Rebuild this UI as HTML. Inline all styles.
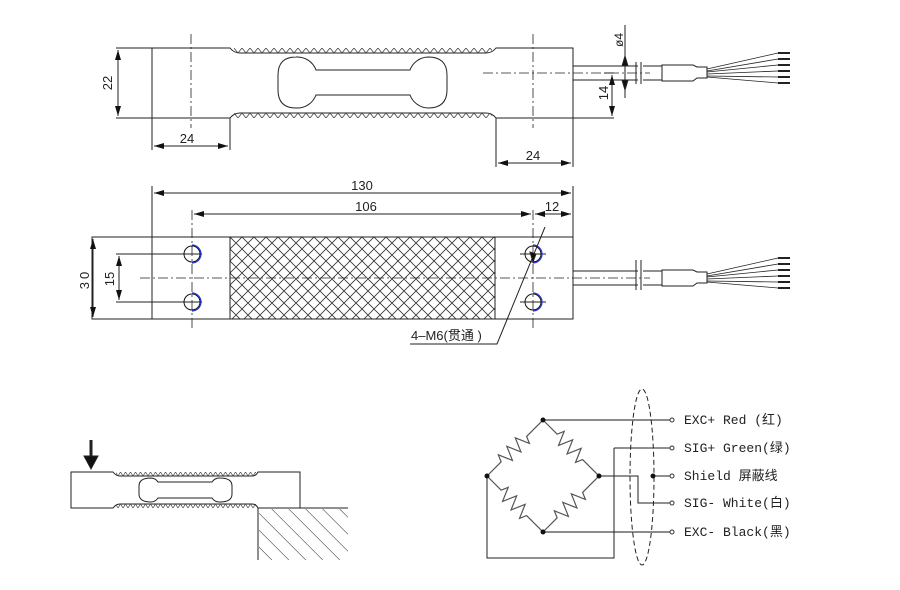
<!DOCTYPE html>
<html><head><meta charset="utf-8"><style>
html,body{margin:0;padding:0;background:#fff;}
svg{display:block;}
text{font-family:"Liberation Sans","Noto Sans CJK SC",sans-serif;fill:#222;}
.m{font-family:"Liberation Mono","Noto Sans CJK SC",monospace;font-size:13px;}
</style></head><body>
<svg width="900" height="590" viewBox="0 0 900 590" xmlns="http://www.w3.org/2000/svg">
<defs>
<pattern id="xh" width="12" height="12" patternUnits="userSpaceOnUse" x="230" y="237">
<path d="M0,0 L12,12 M12,0 L0,12" stroke="#333" stroke-width="0.8"/>
</pattern>
<pattern id="zz" width="8" height="5" patternUnits="userSpaceOnUse" x="230" y="48">
<path d="M0,5 L4,0 L8,5" stroke="#444" fill="none" stroke-width="0.8"/>
</pattern>
<pattern id="zz2" width="8" height="5" patternUnits="userSpaceOnUse" x="230" y="113">
<path d="M0,5 L4,0 L8,5" stroke="#444" fill="none" stroke-width="0.8"/>
</pattern>
<pattern id="zz3" width="5" height="4" patternUnits="userSpaceOnUse" x="113" y="472">
<path d="M0,4 L2.5,0 L5,4" stroke="#444" fill="none" stroke-width="0.7"/>
</pattern>
<pattern id="gh" width="12" height="12" patternUnits="userSpaceOnUse" patternTransform="rotate(-45)">
<line x1="0" y1="0" x2="0" y2="12" stroke="#222" stroke-width="1"/>
</pattern>
<marker id="a" markerWidth="10" markerHeight="6" refX="10" refY="3" orient="auto-start-reverse" markerUnits="userSpaceOnUse"><path d="M0,0 L10,3 L0,6 Z" fill="#111"/></marker>
<path id="res" d="M0,0 L20,0 L23,-7 L29,7 L35,-7 L41,7 L47,-7 L53,7 L56,0 L79,0" fill="none"/>
</defs>
<g stroke="#222" fill="none" stroke-width="1">
<!-- TOP VIEW -->
<path d="M116,48 H230 Q234,53 240,53 H486 Q492,53 496,48 H573 V118 H496 Q492,113 486,113 H240 Q234,113 230,118 H116"/>
<line x1="152" y1="48" x2="152" y2="150"/>
<rect x="234" y="48" width="258" height="5" fill="url(#zz)" stroke="none"/>
<rect x="234" y="113" width="258" height="5" fill="url(#zz2)" stroke="none"/>
<line x1="230" y1="118" x2="230" y2="150"/>
<line x1="496" y1="118" x2="496" y2="167"/>
<line x1="573" y1="118" x2="573" y2="167"/>
<path d="M316,70 A20,20 0 0 0 296,57 Q278,57 278,75 V90 Q278,108 296,108 A20,20 0 0 0 316,95 H410 A20,20 0 0 0 428,108 Q447,108 447,90 V75 Q447,57 428,57 A20,20 0 0 0 410,70 Z"/>
<line x1="191" y1="34" x2="191" y2="128" stroke-dasharray="10,3,2,3" stroke-width="0.8"/>
<line x1="533" y1="34" x2="533" y2="128" stroke-dasharray="10,3,2,3" stroke-width="0.8"/>
<line x1="483" y1="73" x2="650" y2="73" stroke-dasharray="10,3,2,3" stroke-width="0.8"/>
<line x1="118" y1="50" x2="118" y2="116" marker-start="url(#a)" marker-end="url(#a)"/>
<line x1="154" y1="146" x2="228" y2="146" marker-start="url(#a)" marker-end="url(#a)"/>
<line x1="498" y1="163" x2="571" y2="163" marker-start="url(#a)" marker-end="url(#a)"/>
<path d="M573,66 H638 M573,80 H638 M643,66 H662 M643,80 H662"/>
<path d="M636,62 V84 M641,62 V84"/>
<path d="M662,65 H693 L697,67 H707 V78 H697 L693,81 H662 Z"/>
<path d="M707,69 L778,53 M707,71 L778,59 M707,72 L778,65 M707,74 L778,71 M707,76 L778,77 M707,77 L778,83" stroke-width="0.8"/>
<path d="M778,53 H790 M778,59 H790 M778,65 H790 M778,71 H790 M778,77 H790 M778,83 H790" stroke-width="2"/>
<line x1="625" y1="25" x2="625" y2="98"/>
<path d="M625,56 L622,66 L628,66 Z M625,90 L622,80 L628,80 Z" fill="#111"/>
<line x1="573" y1="118" x2="614" y2="118"/>
<line x1="604" y1="73" x2="614" y2="73"/>
<line x1="612" y1="75" x2="612" y2="116" marker-start="url(#a)" marker-end="url(#a)"/>
<!-- FRONT VIEW -->
<rect x="92" y="237" width="481" height="82"/>
<line x1="152" y1="186" x2="152" y2="319"/>
<line x1="573" y1="186" x2="573" y2="237"/>
<rect x="230" y="237" width="265" height="82" fill="url(#xh)"/>
<line x1="140" y1="278" x2="650" y2="278" stroke-dasharray="10,3,2,3" stroke-width="0.8"/>
<line x1="192" y1="210" x2="192" y2="330" stroke-dasharray="10,3,2,3" stroke-width="0.8"/>
<line x1="533" y1="210" x2="533" y2="330" stroke-dasharray="10,3,2,3" stroke-width="0.8"/>
<line x1="154" y1="193" x2="571" y2="193" marker-start="url(#a)" marker-end="url(#a)"/>
<line x1="194" y1="214" x2="531" y2="214" marker-start="url(#a)" marker-end="url(#a)"/>
<line x1="535" y1="214" x2="571" y2="214" marker-start="url(#a)"  marker-end="url(#a)"/>
<line x1="93" y1="239" x2="93" y2="317" marker-start="url(#a)" marker-end="url(#a)"/>
<line x1="116" y1="254" x2="202" y2="254"/>
<line x1="116" y1="302" x2="202" y2="302"/>
<line x1="119" y1="256" x2="119" y2="300" marker-start="url(#a)" marker-end="url(#a)"/>
<line x1="520" y1="254" x2="546" y2="254"/><line x1="520" y1="302" x2="546" y2="302"/>
<g stroke="#111">
<circle cx="192" cy="254" r="8"/><circle cx="192" cy="302" r="8"/>
<circle cx="533" cy="254" r="8"/><circle cx="533" cy="302" r="8"/>
</g>
<g stroke="#2233dd" stroke-width="1.2">
<path d="M192,245 A9,9 0 0 1 192,263"/><path d="M192,293 A9,9 0 0 1 192,311"/>
<path d="M533,245 A9,9 0 0 1 533,263"/><path d="M533,293 A9,9 0 0 1 533,311"/>
</g>
<path d="M545,227 L497,344 H410"/>
<path d="M533,262 L530,252 L536,254 Z" fill="#111"/>
<path d="M573,271 H638 M573,285 H638 M643,271 H662 M643,285 H662"/>
<path d="M636,260 V290 M641,260 V290"/>
<path d="M662,270 H693 L697,272 H707 V283 H697 L693,286 H662 Z"/>
<path d="M707,274 L778,258 M707,276 L778,264 M707,277 L778,270 M707,279 L778,276 M707,281 L778,282 M707,282 L778,288" stroke-width="0.8"/>
<path d="M778,258 H790 M778,264 H790 M778,270 H790 M778,276 H790 M778,282 H790 M778,288 H790" stroke-width="2"/>
<!-- BOTTOM LEFT -->
<path d="M71,472 H113 Q116,476 120,476 H252 Q256,476 258,472 H300 V508 H258 Q256,504 252,504 H120 Q116,504 113,508 H71 Z"/>
<rect x="116" y="472" width="140" height="4" fill="url(#zz3)" stroke="none"/>
<rect x="116" y="504" width="140" height="4" fill="url(#zz3)" stroke="none"/>
<path d="M158,482 A9,9 0 0 0 151,478 Q139,478 139,486 V494 Q139,502 151,502 A9,9 0 0 0 158,498 H212 A9,9 0 0 0 220,502 Q232,502 232,494 V486 Q232,478 220,478 A9,9 0 0 0 212,482 Z"/>
<rect x="259" y="509" width="89" height="51" fill="url(#gh)" stroke="none"/>
<path d="M258,508 H348 M258,508 V560"/>
<line x1="91" y1="440" x2="91" y2="458" stroke-width="3"/>
<path d="M84,456 L98,456 L91,469 Z" fill="#111"/>
<!-- CIRCUIT -->
<g stroke="#666" stroke-width="1.5">
<line x1="543" y1="420" x2="671" y2="420"/>
<line x1="543" y1="532" x2="671" y2="532"/>
</g>
<path d="M614,448 H671 M614,448 V558 H487 V476 M599,476 H638 V503 H671 M653,476 H671"/>
<g stroke="#555" stroke-width="1.2">
<use href="#res" transform="translate(487,476) rotate(-45)"/>
<use href="#res" transform="translate(543,420) rotate(45)"/>
<use href="#res" transform="translate(487,476) rotate(45)"/>
<use href="#res" transform="translate(543,532) rotate(-45)"/>
</g>
<ellipse cx="642" cy="477" rx="12" ry="88" stroke-dasharray="5,3"/>
<g fill="#111" stroke="none">
<circle cx="543" cy="420" r="2.5"/><circle cx="487" cy="476" r="2.5"/><circle cx="599" cy="476" r="2.5"/><circle cx="543" cy="532" r="2.5"/><circle cx="653" cy="476" r="2.5"/>
</g>
<g fill="#fff" stroke="#333">
<circle cx="672" cy="420" r="2"/><circle cx="672" cy="448" r="2"/><circle cx="672" cy="476" r="2"/><circle cx="672" cy="503" r="2"/><circle cx="672" cy="532" r="2"/>
</g>
</g>
<text x="112" y="83" font-size="13" transform="rotate(-90 112 83)" text-anchor="middle">22</text>
<text x="187" y="143" font-size="13" text-anchor="middle">24</text>
<text x="533" y="160" font-size="13" text-anchor="middle">24</text>
<text x="623" y="40" font-size="12" transform="rotate(-90 623 40)" text-anchor="middle">ø4</text>
<text x="608" y="93" font-size="13" transform="rotate(-90 608 93)" text-anchor="middle">14</text>
<text x="362" y="190" font-size="13" text-anchor="middle">130</text>
<text x="366" y="211" font-size="13" text-anchor="middle">106</text>
<text x="552" y="211" font-size="13" text-anchor="middle">12</text>
<text x="89" y="279" font-size="13" transform="rotate(-90 89 279)" text-anchor="middle" letter-spacing="3">30</text>
<text x="114" y="279" font-size="13" transform="rotate(-90 114 279)" text-anchor="middle">15</text>
<text x="411" y="340" font-size="13">4–M6(贯通 )</text>
<text class="m" x="684" y="424">EXC+ Red  (红)</text>
<text class="m" x="684" y="452">SIG+ Green(绿)</text>
<text class="m" x="684" y="480">Shield  屏蔽线</text>
<text class="m" x="684" y="507">SIG- White(白)</text>
<text class="m" x="684" y="536">EXC- Black(黑)</text>
</svg>
</body></html>
